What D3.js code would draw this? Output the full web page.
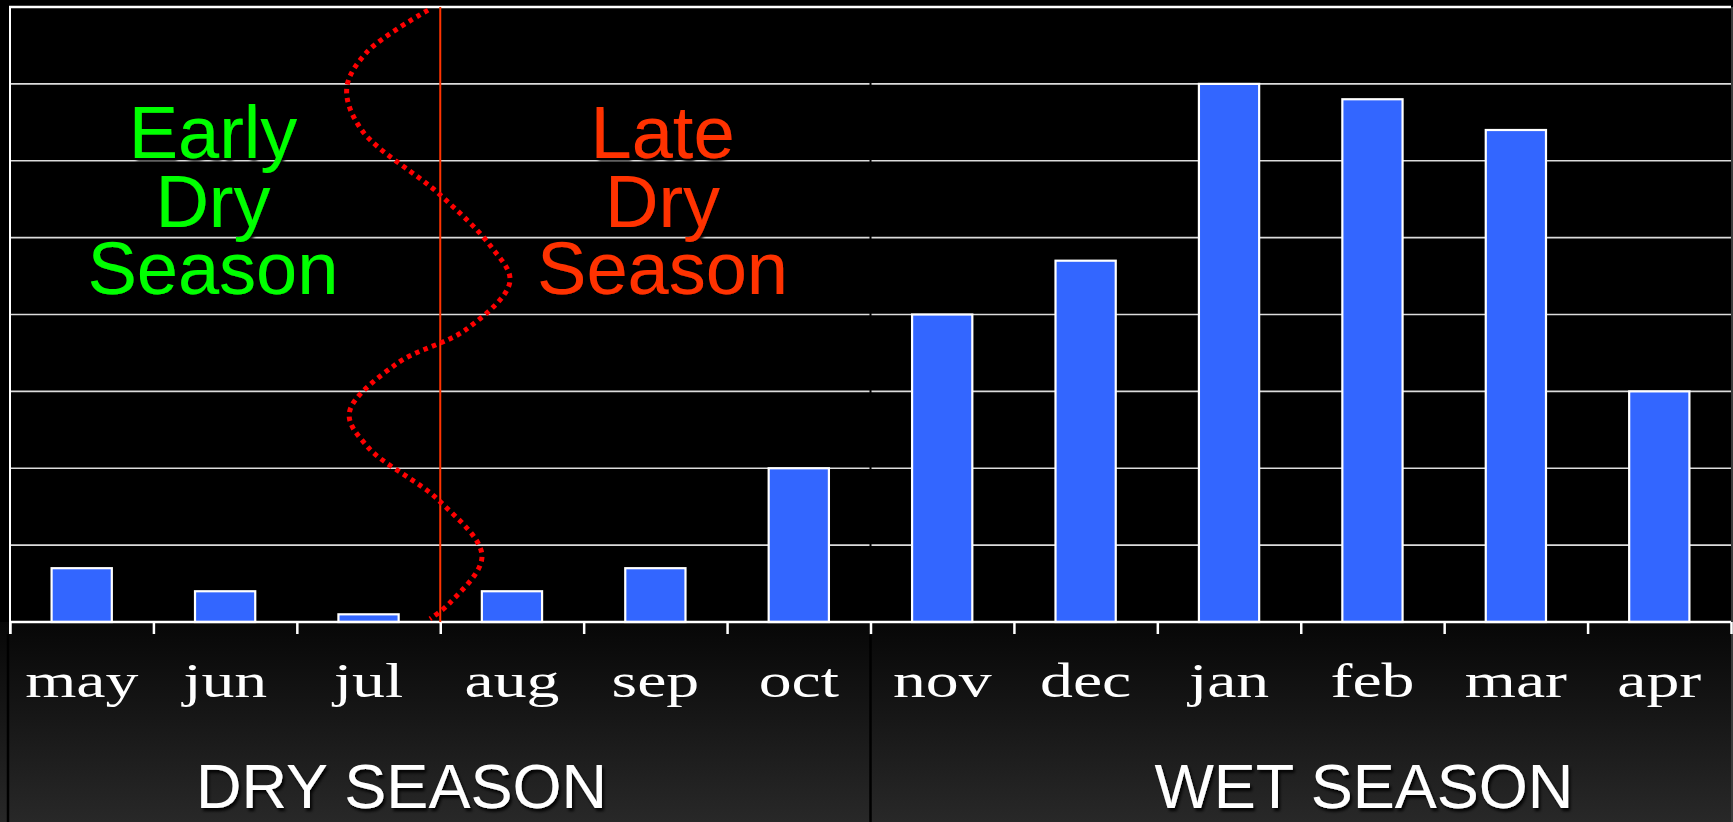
<!DOCTYPE html>
<html>
<head>
<meta charset="utf-8">
<script src="https://cdn.jsdelivr.net/npm/d3@7"></script>
<style>
  body { margin: 0; background: #000; }
  svg { display: block; }
</style>
</head>
<body>
<div id="chart"></div>
<script>
// monthly values (one unit = one gridline)
const months = ["may", "jun", "jul", "aug", "sep", "oct", "nov", "dec", "jan", "feb", "mar", "apr"];
const rainfall = [0.7, 0.4, 0.1, 0.4, 0.7, 2.0, 4.0, 4.7, 7.0, 6.8, 6.4, 3.0];
const gridTicks = [1, 2, 3, 4, 5, 6, 7];

// season blocks below the axis (in month positions)
const seasons = ["DRY SEASON", "WET SEASON"];
const seasonStart = [0, 6];
const seasonLabelPos = [2.73, 9.44];

// annotation text above the bars
const earlyLines = ["Early", "Dry", "Season"];
const lateLines = ["Late", "Dry", "Season"];
const splitAt = 3; // jul / aug boundary

// hand drawn dotted wave: [month position, value]
const wave = [
  [2.915, 7.96], [2.487, 7.41], [2.348, 6.94], [2.452, 6.40], [2.991, 5.57],
  [3.347, 4.90], [3.486, 4.43], [3.184, 3.81], [2.696, 3.36], [2.366, 2.72],
  [2.498, 2.27], [2.991, 1.58], [3.291, 0.86], [3.068, 0.25], [2.928, 0.04]
];

const width = 1733, height = 822;
const plotLeft = 10, plotRight = 1731, plotTop = 7, base = 622;

const svg = d3.select("#chart").append("svg")
    .attr("width", width)
    .attr("height", height);

const defs = svg.append("defs");
const grad = defs.append("linearGradient")
    .attr("id", "lower").attr("x1", 0).attr("x2", 0).attr("y1", 0).attr("y2", 1);
grad.append("stop").attr("offset", "0%").attr("stop-color", "#070707");
grad.append("stop").attr("offset", "100%").attr("stop-color", "#282828");

const shadow = defs.append("filter").attr("id", "shadow")
    .attr("x", "-10%").attr("y", "-20%").attr("width", "130%").attr("height", "150%");
shadow.append("feDropShadow")
    .attr("dx", 2).attr("dy", 3).attr("stdDeviation", 1.5)
    .attr("flood-color", "#000").attr("flood-opacity", 0.9);

// scales
const x = d3.scaleBand().domain(months).range([plotLeft, plotRight]).padding(0);
const pos = d3.scaleLinear().domain([0, months.length]).range([plotLeft, plotRight]);
const y = d3.scaleLinear().domain([0, 8]).range([base, plotTop]);
const barW = x.bandwidth() * 0.42;

// backgrounds
svg.append("rect").attr("x", 0).attr("y", 0).attr("width", width).attr("height", base).attr("fill", "#000");
svg.append("rect").attr("x", 0).attr("y", base).attr("width", width).attr("height", height - base)
    .attr("fill", "url(#lower)");

// gridlines
svg.append("g")
    .selectAll("line")
    .data(gridTicks)
    .join("line")
    .attr("x1", plotLeft).attr("x2", plotRight)
    .attr("y1", d => y(d)).attr("y2", d => y(d))
    .attr("stroke", "#dcdcdc")
    .attr("stroke-width", 1.6);

svg.append("line")
    .attr("x1", plotLeft - 1).attr("x2", plotRight)
    .attr("y1", y(8)).attr("y2", y(8))
    .attr("stroke", "#fff").attr("stroke-width", 2.5);

// little gap where the two halves meet
svg.append("line")
    .attr("x1", pos(6)).attr("x2", pos(6))
    .attr("y1", y(7.6)).attr("y2", base - 2)
    .attr("stroke", "#000").attr("stroke-width", 2);

// bars
svg.append("g")
    .selectAll("rect")
    .data(months)
    .join("rect")
    .attr("x", d => x(d) + (x.bandwidth() - barW) / 2)
    .attr("y", (d, i) => y(rainfall[i]))
    .attr("width", barW)
    .attr("height", (d, i) => y(0) - y(rainfall[i]))
    .attr("fill", "#3366ff")
    .attr("stroke", "#fff")
    .attr("stroke-width", 2.2);

// left and right frame
svg.append("line")
    .attr("x1", plotLeft).attr("x2", plotLeft).attr("y1", plotTop).attr("y2", base + 12)
    .attr("stroke", "#fff").attr("stroke-width", 2);
svg.append("line")
    .attr("x1", plotRight + 1).attr("x2", plotRight + 1).attr("y1", plotTop).attr("y2", height)
    .attr("stroke", "#3c3c3c").attr("stroke-width", 2);

// baseline + ticks at month boundaries
const axis = d3.axisBottom(pos)
    .tickValues(d3.range(0, months.length + 1))
    .tickSize(12)
    .tickFormat("");
const ax = svg.append("g")
    .attr("transform", `translate(0,${base})`)
    .call(axis);
ax.select(".domain").remove();
ax.selectAll(".tick line").attr("stroke", "#fff").attr("stroke-width", 2.5);
svg.append("line")
    .attr("x1", plotLeft).attr("x2", plotRight)
    .attr("y1", base).attr("y2", base)
    .attr("stroke", "#fff").attr("stroke-width", 2.5);

// dark separators in the lower panel
svg.append("g")
    .selectAll("line")
    .data(seasonStart)
    .join("line")
    .attr("x1", d => pos(d) - (d === 0 ? 2 : 0))
    .attr("x2", d => pos(d) - (d === 0 ? 2 : 0))
    .attr("y1", d => base + (d === 0 ? 12 : 13))
    .attr("y2", height)
    .attr("stroke", "#000").attr("stroke-width", 2.5);

// month labels (stretched serif like the slide)
svg.append("g")
    .selectAll("text")
    .data(months)
    .join("text")
    .attr("transform", d => `translate(${x(d) + x.bandwidth() / 2},697) scale(1.37,1)`)
    .attr("text-anchor", "middle")
    .attr("font-family", "'Liberation Serif', 'Times New Roman', serif")
    .attr("font-size", 48)
    .attr("fill", "#fff")
    .text(d => d);

// season labels
svg.append("g")
    .selectAll("text")
    .data(seasons)
    .join("text")
    .attr("x", (d, i) => pos(seasonLabelPos[i]))
    .attr("y", 808)
    .attr("text-anchor", "middle")
    .attr("font-family", "'Liberation Sans', Arial, sans-serif")
    .attr("font-size", 63)
    .attr("fill", "#fff")
    .attr("filter", "url(#shadow)")
    .text(d => d);

// red split line between early and late dry season
svg.append("line")
    .attr("x1", pos(splitAt)).attr("x2", pos(splitAt))
    .attr("y1", y(8)).attr("y2", base)
    .attr("stroke", "#ff3300").attr("stroke-width", 2);

// dotted wave
const waveLine = d3.line()
    .x(d => pos(d[0]))
    .y(d => y(d[1]))
    .curve(d3.curveCatmullRom.alpha(0.5));
svg.append("path")
    .attr("d", waveLine(wave))
    .attr("fill", "none")
    .attr("stroke", "#ff0000")
    .attr("stroke-width", 5)
    .attr("stroke-dasharray", "4.5 4.5");

// early / late annotations (lines set tight, as on the slide)
const lineY = [158, 227, 294];
function block(lines, cx, color) {
  svg.append("g")
      .selectAll("text")
      .data(lines)
      .join("text")
      .attr("x", cx)
      .attr("y", (d, i) => lineY[i])
      .attr("text-anchor", "middle")
      .attr("font-family", "'Liberation Sans', Arial, sans-serif")
      .attr("font-size", 74)
      .attr("fill", color)
      .attr("filter", "url(#shadow)")
      .text(d => d);
}
block(earlyLines, pos(1.415), "#00ff00");
block(lateLines, pos(4.55), "#ff3300");
</script>
</body>
</html>
